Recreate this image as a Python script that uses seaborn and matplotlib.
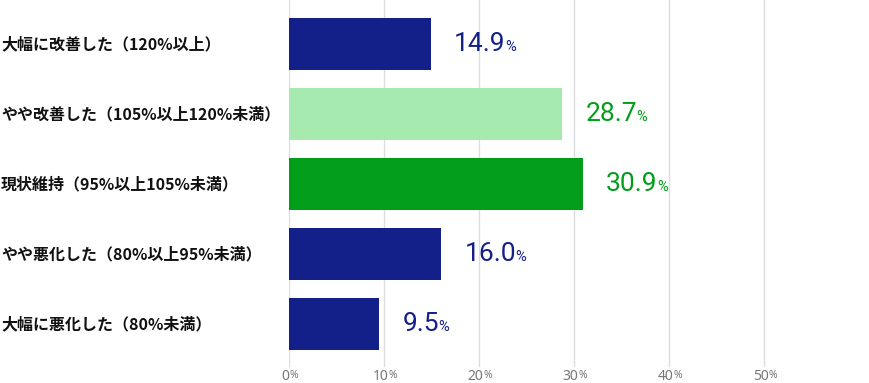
import matplotlib
matplotlib.use("Agg")
import matplotlib.pyplot as plt
import matplotlib.transforms as mtransforms
import seaborn as sns
import pandas as pd

categories = ["大幅に改善した（120%以上）", "やや改善した（105%以上120%未満）",
              "現状維持（95%以上105%未満）", "やや悪化した（80%以上95%未満）",
              "大幅に悪化した（80%未満）"]
values = [14.9, 28.7, 30.9, 16.0, 9.5]
bar_colors = ["#13208a", "#a6eab0", "#009e1a", "#13208a", "#13208a"]
label_colors = ["#13208a", "#009e1a", "#009e1a", "#13208a", "#13208a"]
xticks = [0, 10, 20, 30, 40, 50]

sns.set_theme(style="white")
plt.rcParams['font.family'] = ['Noto Sans CJK JP', 'DejaVu Sans']

df = pd.DataFrame({"cat": categories, "val": values})
fig = plt.figure(figsize=(8.7, 3.83), dpi=100)
ax = fig.add_axes([289/870, 16/383, 1 - 289/870, 367/383])

sns.barplot(data=df, y="cat", x="val", hue="cat", palette=bar_colors,
            order=categories, hue_order=categories, width=0.743,
            legend=False, ax=ax, orient="h", saturation=1, zorder=3,
            linewidth=0, edgecolor="none")

ax.set_xlim(0, 61.16)
ax.set_ylim(4.614, -0.629)
for s in ax.spines.values():
    s.set_visible(False)
ax.set_xticks(xticks)
ax.set_xticklabels([])
ax.set_yticklabels([])
ax.set_xlabel("")
ax.set_ylabel("")
ax.tick_params(length=0)
for t in xticks:
    ax.axvline(t, color="#dddddd", lw=1, zorder=1)

# x tick labels
tb = mtransforms.blended_transform_factory(ax.transData, ax.transAxes)
for t in xticks:
    num = ax.annotate(str(t), xy=(t, 0), xycoords=tb, xytext=(-2.5, -1.5),
                      textcoords="offset points", ha="center", va="top",
                      fontsize=10, color="#777777", family="Noto Sans")
    ax.annotate("%", xy=(1, 0.2), xycoords=num, xytext=(0, 0),
                textcoords="offset points", ha="left", va="bottom",
                fontsize=7.5, color="#777777", family="Noto Sans")

# category labels
lb = mtransforms.blended_transform_factory(fig.transFigure, ax.transData)
for i, c in enumerate(categories):
    ax.text(1/870, i, c, transform=lb, ha="left", va="center",
            fontsize=11.5, fontweight="bold", color="#111111")

# value labels
for i, (v, col) in enumerate(zip(values, label_colors)):
    num = ax.annotate(f"{v:.1f}", xy=(v, i), xytext=(17, 0),
                      textcoords="offset points", ha="left", va="center",
                      fontsize=19, color=col, family="Roboto")
    ax.annotate("%", xy=(1, 0.1), xycoords=num, xytext=(-0.5, 0),
                textcoords="offset points", ha="left", va="bottom",
                fontsize=10.5, color=col, family="Roboto")

fig.savefig("out.png", dpi=100)
